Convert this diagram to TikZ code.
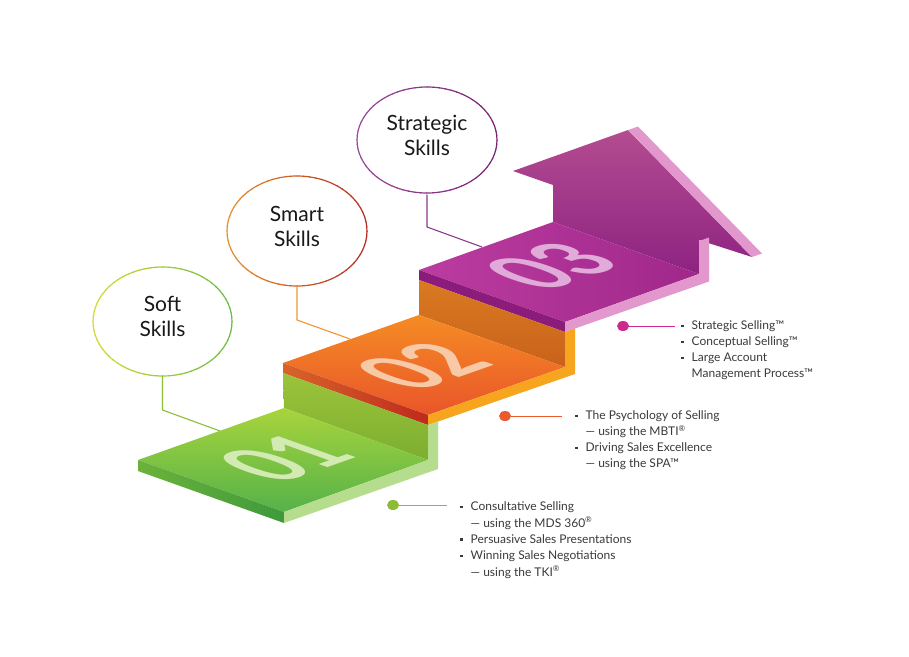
\documentclass[tikz,border=0pt]{standalone}
\usepackage{fontspec}
\setmainfont{Lato}
\usetikzlibrary{shapes.geometric}
\definecolor{gTop1}{HTML}{A8D43C}
\definecolor{gTop2}{HTML}{55B24A}
\definecolor{gFront1}{HTML}{6CB23A}
\definecolor{gFront2}{HTML}{3E9A3C}
\definecolor{gRis1}{HTML}{9CC43A}
\definecolor{gRis2}{HTML}{7CAE30}
\definecolor{gSide}{HTML}{B6DD8E}
\definecolor{gDigit}{HTML}{D3EBB2}
\definecolor{oTop1}{HTML}{F58C24}
\definecolor{oTop2}{HTML}{E9552A}
\definecolor{oFront1}{HTML}{D8642A}
\definecolor{oFront2}{HTML}{BE2A1C}
\definecolor{oRis1}{HTML}{DA7A22}
\definecolor{oRis2}{HTML}{C8621A}
\definecolor{oSide}{HTML}{F7A51E}
\definecolor{oDigit}{HTML}{F8C9A6}
\definecolor{pTop1}{HTML}{BC3CA0}
\definecolor{pTop2}{HTML}{A0288A}
\definecolor{pFront}{HTML}{8C1C7C}
\definecolor{pArr1}{HTML}{B44C90}
\definecolor{pArr2}{HTML}{8E2282}
\definecolor{pSide}{HTML}{E398CD}
\definecolor{pDigit}{HTML}{E0AAD9}
\definecolor{softL}{HTML}{D4DC2A}
\definecolor{softR}{HTML}{6CBB44}
\definecolor{smartL}{HTML}{E8902A}
\definecolor{smartR}{HTML}{B42A22}
\definecolor{stratL}{HTML}{9A4A9A}
\definecolor{stratR}{HTML}{7A2272}
\definecolor{softLine}{HTML}{8CBF3A}
\definecolor{smartLine}{HTML}{F3952E}
\definecolor{stratLine}{HTML}{8C3A8A}
\definecolor{gDot}{HTML}{8CBC34}
\definecolor{oDot}{HTML}{EA5A2C}
\definecolor{pDot}{HTML}{CC2A8C}
\definecolor{txtc}{HTML}{3A3A3A}
\newcommand\bul{\rule{0pt}{12pt}\makebox[10.5pt][l]{\raisebox{2.8pt}{\rule{2.4pt}{2.4pt}}}}
\newcommand\ind{\hspace*{10.5pt}}
\newcommand\gradring[5]{%
  \foreach \a in {0,5,...,355}{%
    \pgfmathtruncatemacro\pct{50+50*cos(\a+2.5)}%
    \draw[line width=1.2pt, draw=#5!\pct!#4] (#1.center) ++(\a:#2 and #3)
      arc[start angle=\a, end angle=\a+5.6, x radius=#2, y radius=#3];}}
\begin{document}
\begin{tikzpicture}[x=1pt,y=-1pt,
  bubble/.style={ellipse, minimum width=139pt, minimum height=109pt, inner sep=0pt,
    align=center, font=\fontsize{21}{25}\selectfont, text=black!90},
  dotn/.style={ellipse, minimum width=12pt, minimum height=10pt, inner sep=0pt},
  listtxt/.style={anchor=north west, inner sep=0pt, align=left, text=txtc},
  digit/.style={transform shape, inner sep=0pt, font=\fontsize{100}{100}\selectfont\bfseries},
  lead/.style={line width=1.1pt}]
\useasboundingbox (0,0) rectangle (909,656);
\fill[white] (0,0) rectangle (909,656);

% leader lines from bubbles
\coordinate (softK) at (162.5,410);
\coordinate (softE) at (220,431);
\coordinate (smartK) at (297,320);
\coordinate (smartE) at (350,339);
\coordinate (stratK) at (427,227);
\coordinate (stratE) at (482,247);

% ---------- step 3 with arrow ----------
\shade[top color=pArr1, bottom color=pArr2]
  (553,222) -- (553,185) -- (513,171) -- (628,130) -- (752,257) -- (699,240) -- (699,274) -- cycle;
\fill[pSide] (628,130) -- (638,126.5) -- (762,253.5) -- (752,257) -- cycle;
\shade[left color=pTop1, right color=pTop2] (419,270) -- (553,222) -- (699,274) -- (565,322) -- cycle;
\fill[pFront] (419,270) -- (565,322) -- (565,332) -- (419,280) -- cycle;
\fill[pSide] (565,322) -- (699,274) -- (699,241) -- (709,237.5) -- (709,281.5) -- (565,332) -- cycle;
\begin{scope}[shift={(551,266)}, cm={0.707,0.249,-0.942,0.335,(0,0)}]
  \node[digit, text=pDigit] (n3) {03};
\end{scope}

% ---------- step 2 ----------
\shade[top color=oRis1, bottom color=oRis2] (419,315) -- (565,367) -- (565,332) -- (419,280) -- cycle;
\shade[top color=oTop1, bottom color=oTop2] (283,363) -- (419,315) -- (565,367) -- (428,415) -- cycle;
\shade[left color=oFront1, right color=oFront2] (283,363) -- (428,415) -- (428,425) -- (283,373) -- cycle;
\fill[oSide] (428,415) -- (565,367) -- (565,332) -- (575,328.5) -- (575,374) -- (428,425) -- cycle;
\begin{scope}[shift={(422,366)}, cm={0.707,0.249,-0.942,0.335,(0,0)}]
  \node[digit, text=oDigit] (n2) {02};
\end{scope}

% ---------- step 1 ----------
\shade[top color=gRis1, bottom color=gRis2] (284,408) -- (428,460) -- (428,425) -- (283,373) -- cycle;
\shade[top color=gTop1, bottom color=gTop2] (138,460) -- (284,408) -- (428,460) -- (284,512) -- cycle;
\shade[left color=gFront1, right color=gFront2] (138,460) -- (284,512) -- (284,523) -- (138,471) -- cycle;
\fill[gSide] (284,512) -- (428,460) -- (428,425) -- (438,421.5) -- (438,469) -- (284,523) -- cycle;
\begin{scope}[shift={(285,458)}, cm={0.707,0.249,-0.942,0.335,(0,0)}]
  \node[digit, text=gDigit] (n1) {01};
\end{scope}

% ---------- bubbles ----------
\node[bubble] (soft) at (162.5,321.5) {Soft\\Skills\rule[-10pt]{0pt}{10pt}};
\node[bubble] (smart) at (297,231) {Smart\\Skills\rule[-10pt]{0pt}{10pt}};
\node[bubble] (strat) at (427,140) {Strategic\\Skills\rule[-10pt]{0pt}{10pt}};
\gradring{soft}{69.5}{54.5}{softL}{softR}
\gradring{smart}{70}{55}{smartL}{smartR}
\gradring{strat}{70}{53}{stratL}{stratR}
\draw[lead, softLine] (soft.south) -- (softK) -- (softE);
\draw[lead, smartLine] (smart.south) -- (smartK) -- (smartE);
\draw[lead, stratLine] (strat.south) -- (stratK) -- (stratE);

% ---------- lists ----------
\node[dotn, fill=gDot] (gd) at (393,505) {};
\coordinate (ge) at (447,505);
\draw[gDot, line width=1pt] (gd) -- (ge);
\node[listtxt, font=\fontsize{12}{16.4}\selectfont] (gl) at (460,498.5)
  {\bul Consultative Selling\\ \ind --- using the MDS 360\textsuperscript{®}\\
   \bul Persuasive Sales Presentations\\ \bul Winning Sales Negotiations\\
   \ind --- using the TKI\textsuperscript{®}};

\node[dotn, fill=oDot] (od) at (505,416) {};
\coordinate (oe) at (562,416);
\draw[oDot, line width=1pt] (od) -- (oe);
\node[listtxt, font=\fontsize{12}{16}\selectfont] (ol) at (575,407.5)
  {\bul The Psychology of Selling\\ \ind --- using the MBTI\textsuperscript{®}\\
   \bul Driving Sales Excellence\\ \ind --- using the SPA™};

\node[dotn, fill=pDot] (pd) at (623,326) {};
\coordinate (pe) at (675,326);
\draw[pDot, line width=1pt] (pd) -- (pe);
\node[listtxt, font=\fontsize{12}{16}\selectfont] (pl) at (681,317.5)
  {\bul Strategic Selling™\\ \bul Conceptual Selling™\\ \bul Large Account\\
   \ind Management Process™};
\end{tikzpicture}
\end{document}
